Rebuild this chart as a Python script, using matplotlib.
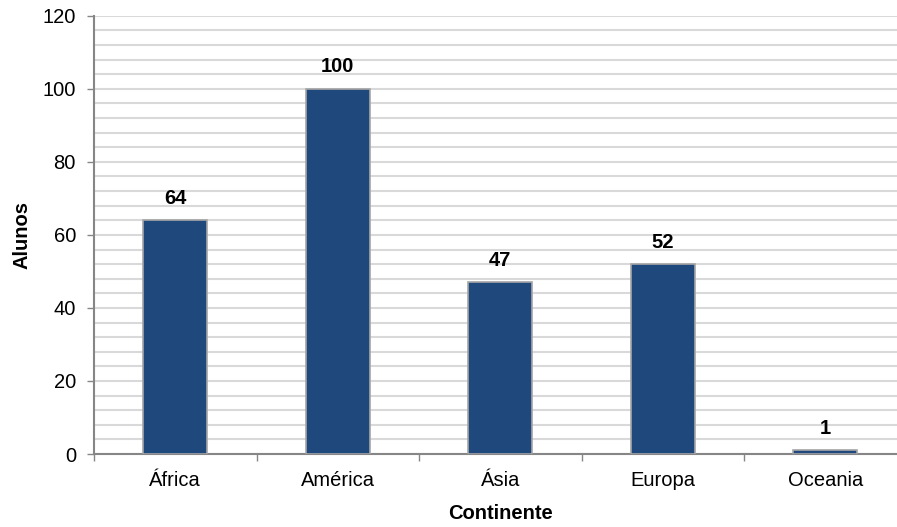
import matplotlib.pyplot as plt
import numpy as np

plt.rcParams['font.family'] = ['Liberation Sans', 'DejaVu Sans']

continentes = ['África', 'América', 'Ásia', 'Europa', 'Oceania']
alunos = [64, 100, 47, 52, 1]

fig = plt.figure(figsize=(8.97, 5.27), dpi=100)
# the plot area runs a bit past the right edge of the image, like the original
ax = fig.add_axes([0.1048, 0.1385, 0.9058, 0.8315])

x = np.arange(len(continentes))
ax.bar(x, alunos, width=0.394, color='#1F497D', edgecolor='#A6A6A6', linewidth=1.2, zorder=3)

for xi, v in zip(x, alunos):
    ax.annotate(str(v), (xi, v), xytext=(0, 9), textcoords='offset points',
                ha='center', va='bottom', fontsize=14.5, fontweight='bold')

ax.set_xlim(-0.5, len(continentes) - 0.5)
ax.set_ylim(0, 120)
ax.set_yticks(np.arange(0, 121, 20))
ax.set_yticks(np.arange(0, 121, 4), minor=True)
ax.grid(axis='y', which='both', color='#D9D9D9', linewidth=1.5, zorder=0)
ax.tick_params(axis='y', which='minor', length=0)
ax.tick_params(axis='y', which='major', length=5, width=1, color='#868686', labelsize=14.5, pad=8)

ax.set_xticks(x)
ax.set_xticklabels(continentes)
ax.set_xticks(np.arange(-0.5, len(continentes)), minor=True)
ax.tick_params(axis='x', which='major', length=0, labelsize=14.5, pad=12)
ax.tick_params(axis='x', which='minor', length=5, width=1, color='#868686')

for s in ['top', 'right']:
    ax.spines[s].set_visible(False)
for s in ['left', 'bottom']:
    ax.spines[s].set_color('#868686')
    ax.spines[s].set_linewidth(1.5)

ax.set_xlabel('Continente', fontsize=14.5, fontweight='bold', labelpad=10)
ax.set_ylabel('Alunos', fontsize=14.5, fontweight='bold', labelpad=8)

fig.savefig('out.png', dpi=100)
